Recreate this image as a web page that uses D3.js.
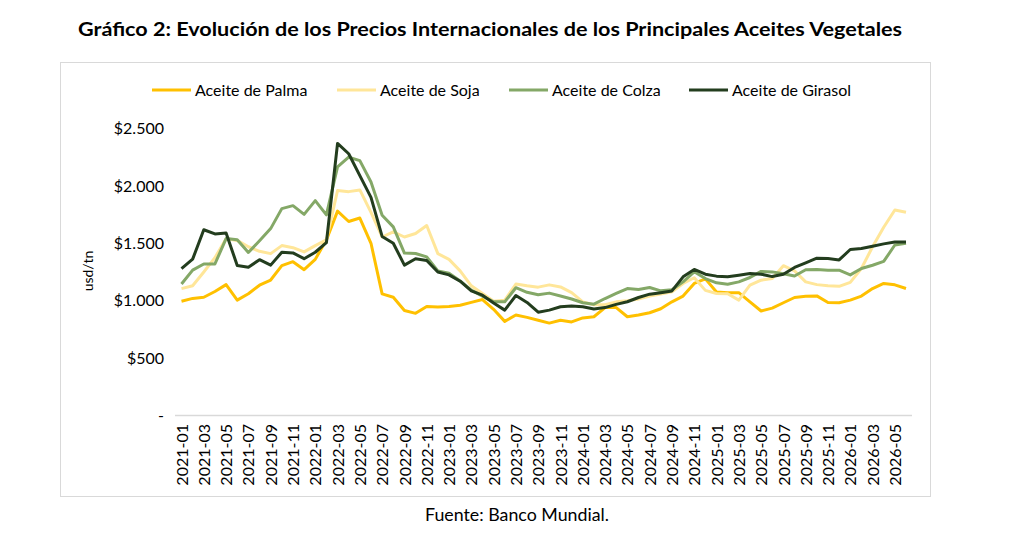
<!DOCTYPE html>
<html><head><meta charset="utf-8">
<script src="https://cdn.jsdelivr.net/npm/d3@7"></script>
<style>body{margin:0;background:#fff;} svg{display:block;}</style>
</head><body>
<svg id="c" width="1024" height="549"></svg>
<script>
const months = [];
for (let y = 2021; y <= 2026; y++) for (let m = 1; m <= 12; m++) { if (y === 2026 && m > 6) break; months.push(y + "-" + String(m).padStart(2, "0")); }

const palma = [995,1020,1030,1080,1140,1005,1060,1135,1180,1305,1340,1270,1360,1530,1780,1690,1720,1500,1060,1030,915,890,950,945,950,960,985,1010,925,820,875,855,830,805,830,815,850,860,940,940,860,875,895,930,990,1040,1150,1190,1075,1070,1070,990,910,935,982,1028,1038,1042,985,982,1005,1040,1106,1150,1138,1106];
const soja = [1105,1130,1250,1375,1540,1525,1470,1430,1410,1480,1462,1425,1480,1530,1960,1950,1965,1770,1555,1600,1555,1585,1655,1410,1360,1260,1130,1063,995,1005,1145,1130,1118,1138,1120,1070,990,965,965,990,1000,1015,1040,1058,1077,1150,1200,1090,1063,1060,1005,1135,1179,1193,1305,1260,1164,1140,1130,1125,1160,1280,1470,1640,1790,1770];
const colza = [1145,1266,1320,1320,1541,1530,1420,1522,1628,1802,1828,1752,1872,1748,2165,2250,2220,2034,1744,1643,1415,1411,1382,1260,1240,1172,1092,1040,990,990,1113,1073,1052,1066,1041,1015,982,970,1019,1063,1106,1098,1115,1086,1095,1164,1252,1193,1156,1144,1164,1202,1255,1251,1235,1215,1270,1272,1266,1266,1225,1280,1309,1342,1485,1500];
const girasol = [1280,1362,1618,1582,1590,1307,1292,1357,1310,1422,1416,1366,1422,1505,2370,2280,2090,1900,1560,1500,1310,1365,1350,1250,1225,1170,1085,1048,980,918,1045,985,900,918,947,953,947,928,940,968,991,1028,1057,1070,1085,1208,1272,1231,1214,1208,1222,1237,1231,1210,1230,1290,1330,1370,1367,1355,1446,1454,1475,1495,1512,1512];

const seriesNames = ["Aceite de Palma", "Aceite de Soja", "Aceite de Colza", "Aceite de Girasol"];
const seriesColors = ["#FFC000", "#FFE699", "#84A867", "#233D1E"];
const seriesData = [palma, soja, colza, girasol];

const yTicks = [0, 500, 1000, 1500, 2000, 2500];
const yTickLabels = ["-", "$500", "$1.000", "$1.500", "$2.000", "$2.500"];

const svg = d3.select("#c");
const FONT = "Lato, 'Open Sans', sans-serif";

// chart border
svg.append("rect").attr("x", 60.5).attr("y", 62.5).attr("width", 870).attr("height", 434)
  .attr("fill", "#fff").attr("stroke", "#d9d9d9").attr("stroke-width", 1);

// title
svg.append("text").attr("x", 490).attr("y", 36).attr("text-anchor", "middle")
  .attr("font-family", FONT).attr("font-weight", "bold").attr("font-size", 19.5).attr("fill", "#000")
  .attr("textLength", 824).attr("lengthAdjust", "spacingAndGlyphs")
  .text("Gráfico 2: Evolución de los Precios Internacionales de los Principales Aceites Vegetales");

// footer
svg.append("text").attr("x", 517).attr("y", 521).attr("text-anchor", "middle")
  .attr("font-family", FONT).attr("font-size", 16.5).attr("fill", "#000")
  .attr("textLength", 184).attr("lengthAdjust", "spacingAndGlyphs")
  .text("Fuente: Banco Mundial.");

const x = d3.scalePoint().domain(months).range([181.5, 906]);
const y = d3.scaleLinear().domain([0, 2500]).range([415.5, 128.5]);

// baseline
svg.append("line").attr("x1", 175).attr("x2", 912).attr("y1", 415.5).attr("y2", 415.5)
  .attr("stroke", "#d9d9d9").attr("stroke-width", 1.5);

// y axis labels
const yAxis = d3.axisLeft(y).tickValues(yTicks).tickSize(0).tickPadding(0)
  .tickFormat(d => yTickLabels[yTicks.indexOf(d)]);
const gy = svg.append("g").attr("transform", "translate(164,0)").call(yAxis);
gy.select(".domain").remove();
gy.selectAll("text").attr("font-family", FONT).attr("font-size", 16).attr("fill", "#000");

// x axis labels (every other month)
const xAxis = d3.axisBottom(x).tickValues(months.filter((d, i) => i % 2 === 0)).tickSize(0).tickPadding(0);
const gx = svg.append("g").attr("transform", "translate(0,424)").call(xAxis);
gx.select(".domain").remove();
gx.selectAll("text").attr("font-family", FONT).attr("font-size", 16).attr("fill", "#000")
  .attr("transform", "rotate(-90)").attr("text-anchor", "end").attr("dx", 0).attr("dy", "0.35em").attr("x", 0).attr("y", 0);

// y axis title
svg.append("text").attr("transform", "translate(93,271) rotate(-90)").attr("text-anchor", "middle")
  .attr("font-family", FONT).attr("font-size", 14).attr("fill", "#000").text("usd/tn");

// lines
const line = d3.line().x((d, i) => x(months[i])).y(d => y(d));
seriesData.forEach((s, k) => {
  svg.append("path").datum(s).attr("d", line).attr("fill", "none")
    .attr("stroke", seriesColors[k]).attr("stroke-width", 3).attr("stroke-linejoin", "round");
});

// legend
const legendX = [152, 337, 509, 689];
seriesNames.forEach((n, k) => {
  const g = svg.append("g").attr("transform", `translate(${legendX[k]},90)`);
  g.append("line").attr("x1", 0).attr("x2", 39).attr("y1", 0).attr("y2", 0)
    .attr("stroke", seriesColors[k]).attr("stroke-width", 3);
  g.append("text").attr("x", 43).attr("y", 0).attr("dy", "0.35em")
    .attr("font-family", FONT).attr("font-size", 16).attr("fill", "#000").text(n);
});
</script>
</body></html>
